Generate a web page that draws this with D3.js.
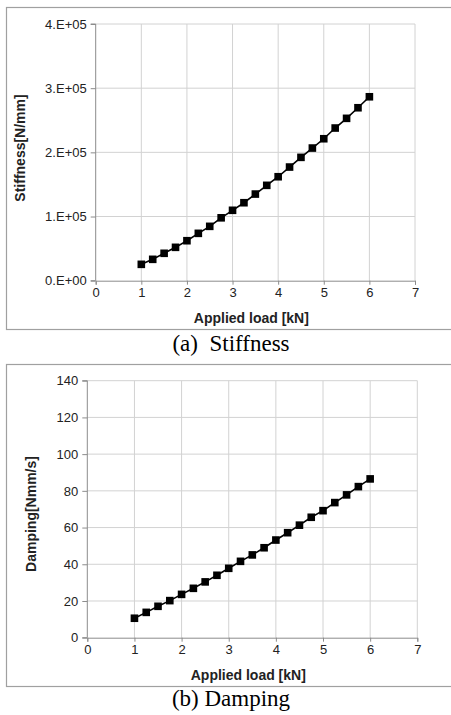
<!DOCTYPE html>
<html>
<head>
<meta charset="utf-8">
<script src="https://cdn.jsdelivr.net/npm/d3@7"></script>
<style>
  body { margin: 0; background: #fff; }
  svg { display: block; }
</style>
</head>
<body>
<div id="container"></div>
<script>
// data
const loads = [1, 1.25, 1.5, 1.75, 2, 2.25, 2.5, 2.75, 3, 3.25, 3.5, 3.75, 4, 4.25, 4.5, 4.75, 5, 5.25, 5.5, 5.75, 6];
const stiffness = [25500, 33300, 42700, 52000, 62300, 73800, 84700, 98000, 109700, 121500, 135000, 148600, 162000, 177100, 192200, 206700, 221200, 237900, 253000, 269500, 286600];
const damping = [10.6, 13.8, 17.1, 20.2, 23.6, 26.9, 30.4, 34.0, 37.8, 41.6, 45.1, 49.0, 53.2, 57.2, 61.3, 65.6, 69.2, 73.6, 77.8, 82.3, 86.5];

const xTicks = [0, 1, 2, 3, 4, 5, 6, 7];
const stiffTicks = [0, 100000, 200000, 300000, 400000];
const dampTicks = [0, 20, 40, 60, 80, 100, 120, 140];

const svg = d3.select("#container")
  .append("svg")
  .attr("width", 451)
  .attr("height", 715);

const sans = "'Liberation Sans', Arial, sans-serif";

// one excel-like panel
const drawPanel = opt => {
  const g = svg.append("g");

  // outer frame
  g.append("rect")
    .attr("x", opt.frame.x + 0.5)
    .attr("y", opt.frame.y + 0.5)
    .attr("width", opt.frame.w)
    .attr("height", opt.frame.h)
    .attr("fill", "#fff")
    .attr("stroke", "#a0a0a0")
    .attr("stroke-width", 1.2);

  const x = d3.scaleLinear().domain([0, 7]).range([opt.plot.left, opt.plot.right]);
  const y = d3.scaleLinear().domain(opt.yDomain).range([opt.plot.bottom, opt.plot.top]);

  // grid
  g.append("g")
    .selectAll("line")
    .data(xTicks.slice(1))
    .join("line")
    .attr("x1", d => x(d)).attr("x2", d => x(d))
    .attr("y1", opt.plot.top).attr("y2", opt.plot.bottom)
    .attr("stroke", "#d2d2d2").attr("stroke-width", 1);

  g.append("g")
    .selectAll("line")
    .data(opt.yTicks.slice(1))
    .join("line")
    .attr("x1", opt.plot.left).attr("x2", opt.plot.right)
    .attr("y1", d => y(d)).attr("y2", d => y(d))
    .attr("stroke", "#d2d2d2").attr("stroke-width", 1);

  // axes
  const xAxis = d3.axisBottom(x).tickValues(xTicks).tickSize(4).tickPadding(3).tickFormat(d => d);
  const yAxis = d3.axisLeft(y).tickValues(opt.yTicks).tickSize(5).tickPadding(4).tickFormat(opt.yFormat);

  const gx = g.append("g")
    .attr("transform", `translate(0, ${opt.plot.bottom})`)
    .call(xAxis);
  const gy = g.append("g")
    .attr("transform", `translate(${opt.plot.left}, 0)`)
    .call(yAxis);

  [gx, gy].forEach(a => {
    a.select(".domain").attr("stroke", "#8c8c8c");
    a.selectAll(".tick line").attr("stroke", "#8c8c8c");
    a.selectAll("text")
      .attr("fill", "#222")
      .style("font-family", sans)
      .style("font-size", "13px");
  });
  gy.select(".domain").attr("d", `M-5,${opt.plot.bottom}H0V${opt.plot.top}H-5`);

  // axis titles
  g.append("text")
    .attr("x", (opt.plot.left + opt.plot.right) / 2 - 4)
    .attr("y", opt.plot.bottom + 42)
    .attr("text-anchor", "middle")
    .style("font-family", sans)
    .style("font-size", "14px")
    .style("font-weight", "bold")
    .attr("fill", "#222")
    .text("Applied load [kN]");

  g.append("text")
    .attr("transform", `translate(${opt.yTitle.x}, ${opt.yTitle.y}) rotate(-90)`)
    .attr("text-anchor", "middle")
    .style("font-family", sans)
    .style("font-size", "14px")
    .style("font-weight", "bold")
    .attr("fill", "#222")
    .text(opt.yLabel);

  // series
  const line = d3.line().x((d, i) => x(loads[i])).y(d => y(d));
  g.append("path")
    .datum(opt.values)
    .attr("d", line)
    .attr("fill", "none")
    .attr("stroke", "#000")
    .attr("stroke-width", 1.6);

  g.append("g")
    .selectAll("rect")
    .data(opt.values)
    .join("rect")
    .attr("x", (d, i) => x(loads[i]) - 3.8)
    .attr("y", d => y(d) - 3.8)
    .attr("width", 7.6)
    .attr("height", 7.6)
    .attr("fill", "#000");

  // caption under the frame
  svg.append("text")
    .attr("x", 231)
    .attr("y", opt.captionY)
    .attr("text-anchor", "middle")
    .style("font-family", "'Liberation Serif', 'Times New Roman', serif")
    .style("font-size", "23px")
    .attr("fill", "#000")
    .style("white-space", "pre")
    .text(opt.caption);
};

drawPanel({
  frame: { x: 6, y: 7, w: 460, h: 322 },
  plot: { left: 95.7, right: 415, top: 24, bottom: 280.7 },
  yDomain: [0, 400000],
  yTicks: stiffTicks,
  yFormat: d => d === 0 ? "0.E+00" : `${d / 100000}.E+05`,
  yLabel: "Stiffness[N/mm]",
  yTitle: { x: 25, y: 148 },
  values: stiffness,
  caption: "(a)  Stiffness",
  captionY: 351
});

drawPanel({
  frame: { x: 6, y: 364, w: 460, h: 322 },
  plot: { left: 87.3, right: 417.3, top: 380.7, bottom: 637.7 },
  yDomain: [0, 140],
  yTicks: dampTicks,
  yFormat: d => d,
  yLabel: "Damping[Nmm/s]",
  yTitle: { x: 36, y: 514 },
  values: damping,
  caption: "(b) Damping",
  captionY: 706
});
</script>
</body>
</html>
